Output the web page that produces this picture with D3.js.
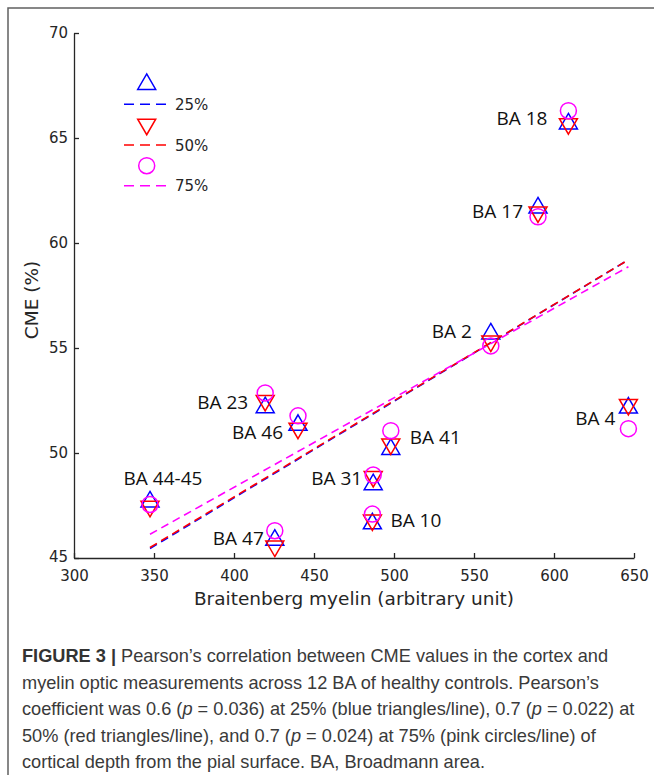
<!DOCTYPE html>
<html>
<head>
<meta charset="utf-8">
<script src="https://cdn.jsdelivr.net/npm/d3@7"></script>
<style>
  body { margin: 0; background: #fff; }
  svg { display: block; }
</style>
</head>
<body>
<div id="chart"></div>
<script>
// values
var baLabels = ["BA 18", "BA 17", "BA 2", "BA 4", "BA 41", "BA 31", "BA 10", "BA 47", "BA 23", "BA 46", "BA 44-45"];
var myelin = [609, 590, 560.5, 646.5, 498, 487, 486.5, 425.5, 419.5, 440, 347.5];
var cme25 = [65.8, 61.8, 55.8, 52.27, 50.3, 48.62, 46.76, 45.98, 52.29, 51.45, 47.8];
var cme50 = [65.55, 61.35, 55.2, 52.18, 50.3, 48.75, 46.68, 45.44, 52.37, 51.05, 47.33];
var cme75 = [66.3, 61.25, 55.1, 51.16, 51.06, 48.95, 47.09, 46.3, 52.86, 51.77, 47.55];

// regression line end points
var fitX = [347.5, 646.5];
var fit25 = [45.45, 59.2];
var fit50 = [45.5, 59.2];
var fit75 = [46.13, 58.87];

var xTicks = [300, 350, 400, 450, 500, 550, 600, 650];
var yTicks = [45, 50, 55, 60, 65, 70];
var depthNames = ["25%", "50%", "75%"];

// where each BA label sits relative to its marker (px)
var labelAnchor = ["end", "end", "end", "end", "start", "end", "start", "end", "end", "end", "middle"];
var labelDx = [-21, -15, -19, -13, 19, -11, 18, -11, -17, -15, 13];
var labelDy = [4, 13, 7, 20, -3, 3, 6, 8, 4, 16, -14];

var W = 654, H = 775;
var svg = d3.select("#chart").append("svg").attr("width", W).attr("height", H);

var x = d3.scaleLinear().domain([300, 650]).range([74, 634]);
var y = d3.scaleLinear().domain([45, 70]).range([558, 33]);

var blue = "#0000ff", red = "#ff0000", pink = "#ff00ff";
var triW = 18, triH = 15.5, circR = 8;

function triUp(){ return "M0," + (-triH/2) + "L" + triW/2 + "," + triH/2 + "L" + (-triW/2) + "," + triH/2 + "Z"; }
function triDown(){ return "M0," + triH/2 + "L" + triW/2 + "," + (-triH/2) + "L" + (-triW/2) + "," + (-triH/2) + "Z"; }

// frame round the figure
svg.append("rect")
    .attr("x", 8).attr("y", 8)
    .attr("width", W + 20).attr("height", H + 20)
    .attr("fill", "none").attr("stroke", "#606060").attr("stroke-width", 1.5);

function drawAxes(){
    var gx = svg.append("g").attr("transform", "translate(0," + y(45) + ")")
        .call(d3.axisBottom(x).tickValues(xTicks).tickSizeInner(-5).tickSizeOuter(0).tickPadding(12));
    var gy = svg.append("g").attr("transform", "translate(" + x(300) + ",0)")
        .call(d3.axisLeft(y).tickValues(yTicks).tickSizeInner(-5).tickSizeOuter(0).tickPadding(6));

    [gx, gy].forEach(function(g){
        g.selectAll("path, line").attr("stroke", "#262626").attr("stroke-width", 1.3);
        g.selectAll("text").attr("fill", "#262626")
            .style("font-family", "DejaVu Sans").style("font-size", "15px");
    });
    // lift the 45 a touch so it clears the 300 below it
    gy.selectAll(".tick text").filter(function(d){ return d == 45; }).attr("dy", "0.2em");

    svg.append("text")
        .attr("x", (x(300) + x(650)) / 2).attr("y", 605)
        .attr("text-anchor", "middle")
        .style("font-family", "DejaVu Sans").style("font-size", "18.5px")
        .attr("fill", "#262626")
        .text("Braitenberg myelin (arbitrary unit)");

    svg.append("text")
        .attr("transform", "translate(38,300) rotate(-90)")
        .attr("text-anchor", "middle")
        .style("font-family", "DejaVu Sans").style("font-size", "18.5px")
        .attr("fill", "#262626")
        .text("CME (%)");
}

function drawFits(){
    var line = d3.line().x(function(d){ return x(d[0]); }).y(function(d){ return y(d[1]); });
    [[fit25, blue], [fit50, red], [fit75, pink]].forEach(function(f){
        svg.append("path")
            .attr("d", line(d3.zip(fitX, f[0])))
            .attr("fill", "none").attr("stroke", f[1])
            .attr("stroke-width", 1.6).attr("stroke-dasharray", "8,5");
    });
}

function drawMarkers(){
    svg.append("g").selectAll("path").data(d3.zip(myelin, cme25)).join("path")
        .attr("d", triUp())
        .attr("transform", function(d){ return "translate(" + x(d[0]) + "," + y(d[1]) + ")"; })
        .attr("fill", "none").attr("stroke", blue).attr("stroke-width", 1.5);

    svg.append("g").selectAll("path").data(d3.zip(myelin, cme50)).join("path")
        .attr("d", triDown())
        .attr("transform", function(d){ return "translate(" + x(d[0]) + "," + y(d[1]) + ")"; })
        .attr("fill", "none").attr("stroke", red).attr("stroke-width", 1.5);

    svg.append("g").selectAll("circle").data(d3.zip(myelin, cme75)).join("circle")
        .attr("cx", function(d){ return x(d[0]); })
        .attr("cy", function(d){ return y(d[1]); })
        .attr("r", circR)
        .attr("fill", "none").attr("stroke", pink).attr("stroke-width", 1.5);

    svg.append("g").selectAll("text").data(baLabels).join("text")
        .attr("x", function(d, i){ return x(myelin[i]) + labelDx[i]; })
        .attr("y", function(d, i){ return y(cme25[i]) + labelDy[i]; })
        .attr("text-anchor", function(d, i){ return labelAnchor[i]; })
        .style("font-family", "Open Sans").style("font-size", "19px")
        .attr("fill", "#111")
        .text(function(d){ return d; });
}

function drawLegend(){
    var g = svg.append("g");
    var colors = [blue, red, pink];
    var markerY = [81.7, 127, 165.7];
    var lineY = [104.3, 145, 185.7];

    g.append("path").attr("d", triUp()).attr("transform", "translate(146.7," + markerY[0] + ")")
        .attr("fill", "none").attr("stroke", blue).attr("stroke-width", 1.5);
    g.append("path").attr("d", triDown()).attr("transform", "translate(146.7," + markerY[1] + ")")
        .attr("fill", "none").attr("stroke", red).attr("stroke-width", 1.5);
    g.append("circle").attr("cx", 146.7).attr("cy", markerY[2]).attr("r", circR)
        .attr("fill", "none").attr("stroke", pink).attr("stroke-width", 1.5);

    depthNames.forEach(function(name, i){
        g.append("line")
            .attr("x1", 124).attr("x2", 171).attr("y1", lineY[i]).attr("y2", lineY[i])
            .attr("stroke", colors[i]).attr("stroke-width", 1.6).attr("stroke-dasharray", "10,6");
        g.append("text")
            .attr("x", 175).attr("y", lineY[i] + 5.5)
            .style("font-family", "DejaVu Sans").style("font-size", "15px")
            .attr("fill", "#262626")
            .text(name);
    });
}

function drawCaption(){
    var lines = [
        [["b", "FIGURE 3 | "], ["", "Pearson\u2019s correlation between CME values in the cortex and"]],
        [["", "myelin optic measurements across 12 BA of healthy controls. Pearson\u2019s"]],
        [["", "coefficient was 0.6 ("], ["i", "p"], ["", " = 0.036) at 25% (blue triangles/line), 0.7 ("], ["i", "p"], ["", " = 0.022) at"]],
        [["", "50% (red triangles/line), and 0.7 ("], ["i", "p"], ["", " = 0.024) at 75% (pink circles/line) of"]],
        [["", "cortical depth from the pial surface. BA, Broadmann area."]]
    ];
    lines.forEach(function(parts, i){
        var t = svg.append("text")
            .attr("x", 22).attr("y", 662 + i * 26.5)
            .style("font-family", "Liberation Sans").style("font-size", "18.2px")
            .attr("fill", "#3a3a3a");
        parts.forEach(function(p){
            var s = t.append("tspan").text(p[1]);
            if (p[0] == "b") s.style("font-weight", "bold").attr("fill", "#333");
            if (p[0] == "i") s.style("font-style", "italic");
        });
    });
}

drawAxes();
drawFits();
drawMarkers();
drawLegend();
drawCaption();
</script>
</body>
</html>
